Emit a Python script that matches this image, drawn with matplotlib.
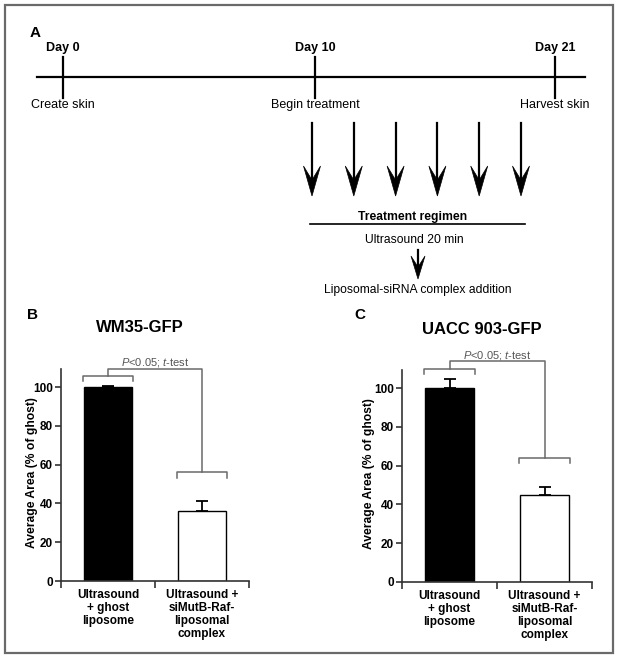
import matplotlib
matplotlib.use("Agg")
import matplotlib.pyplot as plt
from matplotlib.patches import Rectangle, Polygon
import numpy as np

plt.rcParams['font.family'] = ['Liberation Sans', 'DejaVu Sans']
plt.rcParams['mathtext.fontset'] = 'custom'
plt.rcParams['mathtext.rm'] = 'Liberation Sans'
plt.rcParams['mathtext.it'] = 'Liberation Sans:italic'

# ---------------- data ----------------
categories = ["Ultrasound\n+ ghost\nliposome",
              "Ultrasound +\nsiMutB-Raf-\nliposomal\ncomplex"]
wm35_values = [100, 36]
wm35_errors = [0.4, 5]
uacc_values = [100, 45]
uacc_errors = [4.8, 4]
bar_colors = ["black", "white"]
yticks = [0, 20, 40, 60, 80, 100]

# significance brackets: (left level, right level, top level)
wm35_bracket = (105.7, 56, 109.5)
uacc_bracket = (110, 64, 114)

timeline_days = ["Day 0", "Day 10", "Day 21"]
timeline_events = ["Create skin", "Begin treatment", "Harvest skin"]
n_treatments = 6

W, H = 618, 659
fig = plt.figure(figsize=(W / 100, H / 100), dpi=100)

# overlay axes in pixel coordinates for schematic panel A
ov = fig.add_axes([0, 0, 1, 1])
ov.set_xlim(0, W)
ov.set_ylim(H, 0)
ov.axis('off')

# frame
ov.add_patch(Rectangle((5, 5), 608, 648, fill=False, edgecolor='#6a6a6a', lw=1.6))

# panel A
ov.text(35, 33, "A", fontsize=11, fontweight='bold', ha='center', va='center')
ov.plot([37, 585], [77, 77], color='black', lw=1.6)
tick_x = [63, 315, 555]
for x, d, e in zip(tick_x, timeline_days, timeline_events):
    ov.plot([x, x], [57, 98], color='black', lw=1.6)
    ov.text(x, 48, d, fontsize=9, fontweight='bold', ha='center', va='center')
    ov.text(x, 105, e, fontsize=9, ha='center', va='center')

# treatment arrows
arrow_x = np.linspace(312, 521, n_treatments)
for x in arrow_x:
    ov.plot([x, x], [123, 181], color='black', lw=1.6)
    ov.add_patch(Polygon([(x - 8.5, 166), (x, 180), (x + 8.5, 166), (x, 196)],
                         closed=True, facecolor='black', edgecolor='black', lw=0.5))

ov.text(413, 217, "Treatment regimen", fontsize=8.7, fontweight='bold', ha='center', va='center')
ov.plot([310, 525], [224, 224], color='black', lw=1.2)
ov.text(414, 240, "Ultrasound 20 min", fontsize=8.7, ha='center', va='center')
xs = 418
ov.plot([xs, xs], [250, 267], color='black', lw=1.6)
ov.add_patch(Polygon([(xs - 7, 256), (xs, 267), (xs + 7, 256), (xs, 279)],
                     closed=True, facecolor='black', edgecolor='black', lw=0.5))
ov.text(418, 290, "Liposomal-siRNA complex addition", fontsize=8.7, ha='center', va='center')

# panel letters and titles
ov.text(32, 315, "B", fontsize=11, fontweight='bold', ha='center', va='center')
ov.text(140, 327, "WM35-GFP", fontsize=12, fontweight='bold', ha='center', va='center')
ov.text(360, 315, "C", fontsize=11, fontweight='bold', ha='center', va='center')
ov.text(482, 330, "UACC 903-GFP", fontsize=12, fontweight='bold', ha='center', va='center')


def bar_panel(rect, values, errors, bracket, label_x):
    ax = fig.add_axes(rect)
    x = np.arange(len(values))
    ax.bar(x, values, width=0.52, color=bar_colors, edgecolor='black', linewidth=1.0, zorder=2)
    ax.errorbar(x, values, yerr=[np.zeros(len(values)), errors], fmt='none',
                ecolor='black', elinewidth=1.3, capsize=4, capthick=1.3, zorder=3)
    ax.set_xlim(-0.5, 1.5)
    ax.set_ylim(0, 109.3)
    ax.set_yticks(yticks)
    ax.set_yticklabels([str(t) for t in yticks], fontsize=8.5, fontweight='bold')
    ax.set_xticks(x)
    ax.set_xticklabels(categories, fontsize=8.5, fontweight='bold', linespacing=1.1, va='top')
    ax.set_xticks([-0.5, 0.5, 1.5], minor=True)
    ax.tick_params(axis='x', which='major', length=0, pad=6)
    ax.tick_params(axis='x', which='minor', length=5, width=1.2, direction='out', color='#333')
    ax.tick_params(axis='y', length=4, width=1.2, direction='out', color='#333', pad=2)
    for s in ['top', 'right']:
        ax.spines[s].set_visible(False)
    for s in ['left', 'bottom']:
        ax.spines[s].set_color('#333')
        ax.spines[s].set_linewidth(1.2)
    ax.set_ylabel("Average Area (% of ghost)", fontsize=8.7, fontweight='bold')
    ax.yaxis.set_label_coords(label_x, 0.51)

    left_lvl, right_lvl, top_lvl = bracket
    gc = '#6a6a6a'
    hw = 0.27
    drop = 2.8
    kw = dict(color=gc, lw=1.1, clip_on=False, zorder=4)
    ax.plot([0 - hw, 0 - hw, 0 + hw, 0 + hw],
            [left_lvl - drop, left_lvl, left_lvl, left_lvl - drop], **kw)
    ax.plot([1 - hw, 1 - hw, 1 + hw, 1 + hw],
            [right_lvl - drop, right_lvl, right_lvl, right_lvl - drop], **kw)
    ax.plot([0, 0, 1, 1], [left_lvl, top_lvl, top_lvl, right_lvl], **kw)
    ax.text(0.5, top_lvl + 3.0, r"$P$<0.05; $t$-test", fontsize=8, color='#555555',
            ha='center', va='center', clip_on=False)
    return ax


bar_panel([61 / W, (H - 581) / H, 188 / W, 212 / H], wm35_values, wm35_errors,
          wm35_bracket, -0.122)
bar_panel([402 / W, (H - 582) / H, 190 / W, 212 / H], uacc_values, uacc_errors,
          uacc_bracket, -0.143)

fig.savefig("out.png", dpi=100)
